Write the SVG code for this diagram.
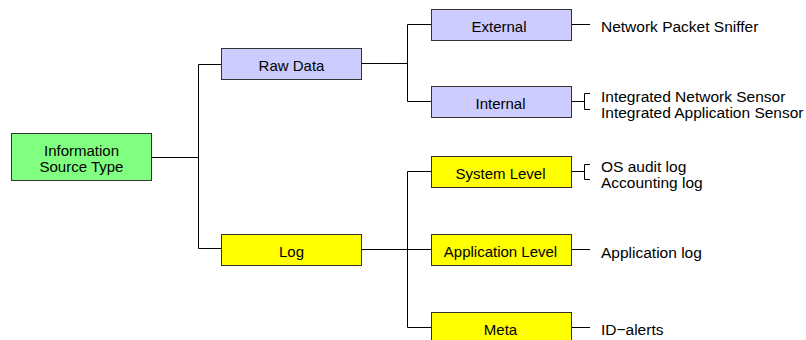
<svg xmlns="http://www.w3.org/2000/svg" width="806" height="340" viewBox="0 0 806 340">
  <style>
    .box { stroke: #333; stroke-width: 1; }
    .src { fill: #80ff80; }
    .raw { fill: #ccccff; }
    .log { fill: #ffff00; }
    .lbl { font-family: "Liberation Sans", Arial, sans-serif; font-size: 15px; fill: #000; }
    .leaf { font-size: 15.5px; }
    .mid { text-anchor: middle; }
    .wire { fill: none; stroke: #000; stroke-width: 1; }
  </style>
  <rect width="806" height="340" fill="#fff"/>

  <g id="connectors">
    <!-- root to first level -->
    <path class="wire" d="M151.5 157.5 H198.5 M198.5 64.5 V248.5 M198.5 64.5 H221 M198.5 248.5 H221"/>
    <!-- Raw Data branch -->
    <path class="wire" d="M361 63.5 H407.5 M407.5 24.5 V101.5 M407.5 24.5 H431 M407.5 101.5 H431"/>
    <!-- Log branch -->
    <path class="wire" d="M361 249.5 H407.5 M407.5 171.5 V327.5 M407.5 171.5 H431 M407.5 249.5 H431 M407.5 327.5 H431"/>
    <!-- leaves -->
    <path class="wire" d="M571 24.5 H590"/>
    <path class="wire" d="M571 101.5 H584.5 M590 93.5 H584.5 V109.5 H590"/>
    <path class="wire" d="M571 171.5 H584.5 M590 164.5 H584.5 V179.5 H590"/>
    <path class="wire" d="M571 249.5 H590"/>
    <path class="wire" d="M571 327.5 H590"/>
  </g>

  <g id="information-source-type">
    <rect class="box src" x="11.5" y="133.5" width="140" height="47"/>
    <text class="lbl mid" x="81.5" y="156">Information</text>
    <text class="lbl mid" x="81.5" y="172">Source Type</text>
  </g>

  <g id="raw-data">
    <rect class="box raw" x="221.5" y="48.5" width="140" height="31"/>
    <text class="lbl mid" x="291.5" y="70.5">Raw Data</text>
  </g>

  <g id="log">
    <rect class="box log" x="221.5" y="234.5" width="140" height="31"/>
    <text class="lbl mid" x="291.5" y="256.5">Log</text>
  </g>

  <g id="external">
    <rect class="box raw" x="431.5" y="9.5" width="140" height="31"/>
    <text class="lbl mid" x="499" y="31.5">External</text>
  </g>

  <g id="internal">
    <rect class="box raw" x="431.5" y="86.5" width="140" height="31"/>
    <text class="lbl mid" x="500.5" y="108.5">Internal</text>
  </g>

  <g id="system-level">
    <rect class="box log" x="431.5" y="156.5" width="140" height="31"/>
    <text class="lbl mid" x="500.5" y="178.5">System Level</text>
  </g>

  <g id="application-level">
    <rect class="box log" x="431.5" y="234.5" width="140" height="31"/>
    <text class="lbl mid" x="500.5" y="256.5">Application Level</text>
  </g>

  <g id="meta">
    <rect class="box log" x="431.5" y="312.5" width="140" height="31"/>
    <text class="lbl mid" x="500.5" y="334.5">Meta</text>
  </g>

  <g id="network-packet-sniffer">
    <text class="lbl leaf" x="601" y="32">Network Packet Sniffer</text>
  </g>

  <g id="integrated-sensors">
    <text class="lbl leaf" x="601" y="102">Integrated Network Sensor</text>
    <text class="lbl leaf" x="601" y="118">Integrated Application Sensor</text>
  </g>

  <g id="system-logs">
    <text class="lbl leaf" x="601" y="171.5">OS audit log</text>
    <text class="lbl leaf" x="601" y="188">Accounting log</text>
  </g>

  <g id="application-log">
    <text class="lbl leaf" x="601" y="257.5">Application log</text>
  </g>

  <g id="id-alerts">
    <text class="lbl leaf" x="601" y="335">ID−alerts</text>
  </g>
</svg>
